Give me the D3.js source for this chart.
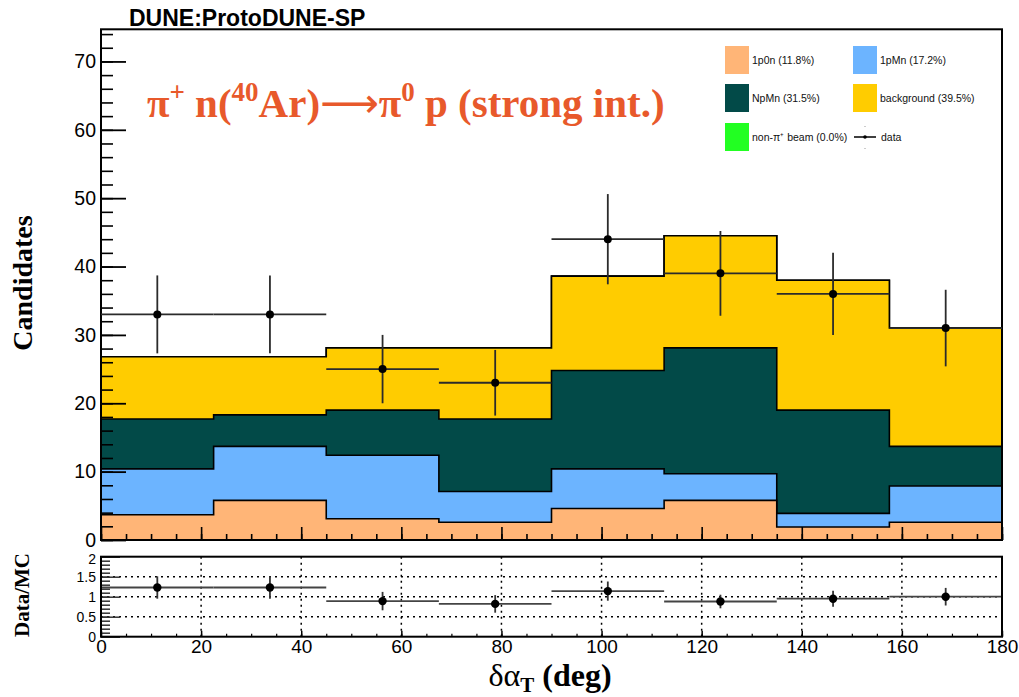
<!DOCTYPE html>
<html>
<head>
<meta charset="utf-8">
<script src="https://cdn.jsdelivr.net/npm/d3@7"></script>
<style>
	body { margin: 0; background: #fff; }
	svg { display: block; }
</style>
</head>
<body>
<script>
// bins in delta alpha_T (deg)
const binEdges = [0, 22.5, 45, 67.5, 90, 112.5, 135, 157.5, 180];
const binCenters = [11.25, 33.75, 56.25, 78.75, 101.25, 123.75, 146.25, 168.75];

// stacked MC components (bottom to top)
const comp1p0n = [3.7, 5.8, 3.1, 2.6, 4.6, 5.8, 1.9, 2.6];
const comp1pMn = [6.7, 7.9, 9.3, 4.5, 5.8, 3.9, 2.0, 5.3];
const compNpMn = [7.3, 4.6, 6.6, 10.6, 14.4, 18.4, 15.1, 5.8];
const compBackground = [9.1, 8.5, 9.1, 10.4, 13.8, 16.4, 19.0, 17.3];
const compNonPiBeam = [0, 0, 0, 0, 0, 0, 0, 0];

// data
const dataCounts = [33, 33, 25, 23, 44, 39, 36, 31];
const dataErrors = [5.7, 5.7, 5.0, 4.8, 6.6, 6.2, 6.0, 5.6];

// data / MC ratio
const ratioValues = [1.23, 1.23, 0.89, 0.82, 1.14, 0.88, 0.95, 1.0];
const ratioErrors = [0.28, 0.28, 0.23, 0.22, 0.24, 0.17, 0.2, 0.22];

const legendLabels = ["1p0n (11.8%)", "1pMn (17.2%)", "NpMn (31.5%)", "background (39.5%)", "non-\u03c0\u207a beam (0.0%)"];
const legendColors = ["#ffb577", "#6cb4ff", "#024a48", "#ffcc00", "#22ff22"];

const yMainTicks = [0, 10, 20, 30, 40, 50, 60, 70];
const yRatioTicks = [0, 0.5, 1, 1.5, 2];
const xTicks = [0, 20, 40, 60, 80, 100, 120, 140, 160, 180];

var width = 1019;
var height = 697;
var sans = "'Liberation Sans', Helvetica, Arial, sans-serif";
var serif = "'Liberation Serif', 'Times New Roman', serif";

const svg = d3
	.select("body")
	.append("svg")
	.attr("width", width)
	.attr("height", height);

const x = d3.scaleLinear().domain([0, 180]).range([101, 1002]);
const y = d3.scaleLinear().domain([0, 74.7]).range([540, 29.3]);
const yr = d3.scaleLinear().domain([0, 2]).range([636.7, 556.7]);

// cumulative stack
const components = [comp1p0n, comp1pMn, compNpMn, compBackground, compNonPiBeam];
var cumulative = [];
var running = binCenters.map(() => 0);
components.forEach((c) => {
	running = running.map((v, i) => v + c[i]);
	cumulative.push(running.slice());
});

function stepPath(vals) {
	var pts = [[x(0), y(0)]];
	vals.forEach((v, i) => {
		pts.push([x(binEdges[i]), y(v)]);
		pts.push([x(binEdges[i + 1]), y(v)]);
	});
	pts.push([x(180), y(0)]);
	return d3.line()(pts) + "Z";
}

// draw from top of stack down so lower ones cover
const stackOrder = d3.range(cumulative.length).reverse();
svg
	.append("g")
	.selectAll("path")
	.data(stackOrder)
	.join("path")
	.attr("d", (k) => stepPath(cumulative[k]))
	.style("fill", (k) => legendColors[k])
	.style("stroke", "#000")
	.style("stroke-width", 1.6)
	.style("stroke-linejoin", "miter");

// main frame
svg
	.append("rect")
	.attr("x", x(0))
	.attr("y", y(74.7))
	.attr("width", x(180) - x(0))
	.attr("height", y(0) - y(74.7))
	.style("fill", "none")
	.style("stroke", "#000")
	.style("stroke-width", 2);

// main y axis
const yAxisMinor = svg
	.append("g")
	.attr("transform", "translate(" + x(0) + ",0)")
	.call(
		d3.axisLeft(y)
			.tickValues(d3.range(0, 75, 2))
			.tickSize(-12)
			.tickFormat("")
	);
yAxisMinor.select(".domain").remove();
yAxisMinor.selectAll("line").style("stroke-width", 1.6);

const yAxis = svg
	.append("g")
	.attr("transform", "translate(" + x(0) + ",0)")
	.call(
		d3.axisLeft(y)
			.tickValues(yMainTicks)
			.tickSize(-25)
			.tickPadding(5)
	);
yAxis.select(".domain").remove();
yAxis.selectAll("line").style("stroke-width", 1.8);
yAxis.selectAll("text")
	.style("font-family", sans)
	.style("font-size", "19.5px")
	.style("fill", "#000");

// main x ticks (no labels)
const xMainMinor = svg
	.append("g")
	.attr("transform", "translate(0," + y(0) + ")")
	.call(d3.axisBottom(x).tickValues(d3.range(0, 181, 5)).tickSize(-6).tickFormat(""));
xMainMinor.select(".domain").remove();
xMainMinor.selectAll("line").style("stroke-width", 1.6);
const xMain = svg
	.append("g")
	.attr("transform", "translate(0," + y(0) + ")")
	.call(d3.axisBottom(x).tickValues(xTicks).tickSize(-13).tickFormat(""));
xMain.select(".domain").remove();
xMain.selectAll("line").style("stroke-width", 1.6);

// data points
const dataG = svg.append("g");
binCenters.forEach((c, i) => {
	dataG.append("line")
		.attr("x1", x(binEdges[i]))
		.attr("x2", x(binEdges[i + 1]))
		.attr("y1", y(dataCounts[i]))
		.attr("y2", y(dataCounts[i]))
		.style("stroke", "#2b2b2b")
		.style("stroke-width", 1.8);
	dataG.append("line")
		.attr("x1", x(c))
		.attr("x2", x(c))
		.attr("y1", y(dataCounts[i] - dataErrors[i]))
		.attr("y2", y(dataCounts[i] + dataErrors[i]))
		.style("stroke", "#2b2b2b")
		.style("stroke-width", 1.8);
	dataG.append("circle")
		.attr("cx", x(c))
		.attr("cy", y(dataCounts[i]))
		.attr("r", 4)
		.style("fill", "#000");
});

// legend
const legendX = [725, 853];
const legendY = [60, 98, 137];
const legend = svg.append("g");
legendLabels.forEach((lab, i) => {
	var lx = legendX[i % 2];
	var ly = legendY[Math.floor(i / 2)];
	legend.append("rect")
		.attr("x", lx)
		.attr("y", ly - 14)
		.attr("width", 24)
		.attr("height", 28)
		.style("fill", legendColors[i]);
	legend.append("text")
		.attr("x", lx + 27)
		.attr("y", ly + 3.5)
		.style("font-family", sans)
		.style("font-size", "10.5px")
		.style("fill", "#111")
		.text(lab);
});
// data entry
legend.append("line")
	.attr("x1", 854).attr("x2", 876)
	.attr("y1", 137).attr("y2", 137)
	.style("stroke", "#000")
	.style("stroke-width", 1.5);
legend.append("circle").attr("cx", 865).attr("cy", 137).attr("r", 1.8).style("fill", "#000");
legend.append("line")
	.attr("x1", 865).attr("x2", 865)
	.attr("y1", 126).attr("y2", 127)
	.style("stroke", "#999");
legend.append("line")
	.attr("x1", 865).attr("x2", 865)
	.attr("y1", 148).attr("y2", 149)
	.style("stroke", "#999");
legend.append("text")
	.attr("x", 881)
	.attr("y", 140.5)
	.style("font-family", sans)
	.style("font-size", "10.5px")
	.style("fill", "#111")
	.text("data");

// experiment label
svg.append("text")
	.attr("x", 129)
	.attr("y", 26)
	.style("font-family", sans)
	.style("font-weight", "bold")
	.style("font-size", "23px")
	.text("DUNE:ProtoDUNE-SP");

// process annotation
const ann = svg.append("text")
	.attr("x", 147)
	.attr("y", 117)
	.style("font-family", serif)
	.style("font-weight", "bold")
	.style("font-size", "41px")
	.style("fill", "#e8592b");
ann.append("tspan").text("\u03c0");
ann.append("tspan").attr("dy", -16).style("font-size", "27px").text("+");
ann.append("tspan").attr("dy", 16).text(" n(");
ann.append("tspan").attr("dy", -16).style("font-size", "27px").text("40");
ann.append("tspan").attr("dy", 16).text("Ar)");
ann.append("tspan").style("font-family", "'DejaVu Sans', sans-serif").style("font-weight", "normal").text("\u27f6");
ann.append("tspan").text("\u03c0");
ann.append("tspan").attr("dy", -16).style("font-size", "27px").text("0");
ann.append("tspan").attr("dy", 16).text(" p (strong int.)");

// y title
svg.append("text")
	.attr("transform", "translate(32,283) rotate(-90)")
	.attr("text-anchor", "middle")
	.style("font-family", serif)
	.style("font-weight", "bold")
	.style("font-size", "28px")
	.text("Candidates");

// ---------------- ratio panel ----------------
const ratioG = svg.append("g");

// dotted grid
ratioG.selectAll(".vgrid")
	.data(xTicks.slice(1, -1))
	.join("line")
	.attr("x1", (d) => x(d))
	.attr("x2", (d) => x(d))
	.attr("y1", yr(2))
	.attr("y2", yr(0))
	.style("stroke", "#000")
	.style("stroke-width", 1.5)
	.style("stroke-dasharray", "2,4");
ratioG.selectAll(".hgrid")
	.data([0.5, 1, 1.5])
	.join("line")
	.attr("x1", x(0))
	.attr("x2", x(180))
	.attr("y1", (d) => yr(d))
	.attr("y2", (d) => yr(d))
	.style("stroke", "#000")
	.style("stroke-width", 1.5)
	.style("stroke-dasharray", "2,4");

// ratio y ticks
const yrMinor = ratioG.append("g")
	.attr("transform", "translate(" + x(0) + ",0)")
	.call(d3.axisLeft(yr).tickValues(d3.range(0, 2.01, 0.1)).tickSize(-9).tickFormat(""));
yrMinor.select(".domain").remove();
yrMinor.selectAll("line").style("stroke-width", 1.5).style("stroke", "#333");
const yrAxis = ratioG.append("g")
	.attr("transform", "translate(" + x(0) + ",0)")
	.call(d3.axisLeft(yr).tickValues(yRatioTicks).tickSize(-19).tickPadding(5).tickFormat(d3.format("")));
yrAxis.select(".domain").remove();
yrAxis.selectAll("line").style("stroke-width", 1.5).style("stroke", "#333");
yrAxis.selectAll("text")
	.style("font-family", sans)
	.style("font-size", "14px")
	.style("fill", "#000");
yrAxis.selectAll("text").filter((d) => d === 2).attr("dy", "0.5em");

// ratio x axis
const xrMinor = ratioG.append("g")
	.attr("transform", "translate(0," + yr(0) + ")")
	.call(d3.axisBottom(x).tickValues(d3.range(0, 181, 5)).tickSize(-3).tickFormat(""));
xrMinor.select(".domain").remove();
xrMinor.selectAll("line").style("stroke-width", 1.2);
const xrAxis = ratioG.append("g")
	.attr("transform", "translate(0," + yr(0) + ")")
	.call(d3.axisBottom(x).tickValues(xTicks).tickSize(-6).tickPadding(3));
xrAxis.select(".domain").remove();
xrAxis.selectAll("line").style("stroke-width", 1.5);
xrAxis.selectAll("text")
	.style("font-family", sans)
	.style("font-size", "19px")
	.style("fill", "#000");

// ratio points
binCenters.forEach((c, i) => {
	ratioG.append("line")
		.attr("x1", x(binEdges[i]))
		.attr("x2", x(binEdges[i + 1]))
		.attr("y1", yr(ratioValues[i]))
		.attr("y2", yr(ratioValues[i]))
		.style("stroke", "#444")
		.style("stroke-width", 1.8);
	ratioG.append("line")
		.attr("x1", x(c))
		.attr("x2", x(c))
		.attr("y1", yr(ratioValues[i] - ratioErrors[i]))
		.attr("y2", yr(ratioValues[i] + ratioErrors[i]))
		.style("stroke", "#333")
		.style("stroke-width", 1.8);
	ratioG.append("circle")
		.attr("cx", x(c))
		.attr("cy", yr(ratioValues[i]))
		.attr("r", 4.2)
		.style("fill", "#000");
});

// ratio frame
ratioG.append("rect")
	.attr("x", x(0))
	.attr("y", yr(2))
	.attr("width", x(180) - x(0))
	.attr("height", yr(0) - yr(2))
	.style("fill", "none")
	.style("stroke", "#000")
	.style("stroke-width", 2);

// ratio y title
svg.append("text")
	.attr("transform", "translate(29,595) rotate(-90)")
	.attr("text-anchor", "middle")
	.style("font-family", serif)
	.style("font-weight", "bold")
	.style("font-size", "21px")
	.text("Data/MC");

// x title
const xt = svg.append("text")
	.attr("x", 550)
	.attr("y", 686)
	.attr("text-anchor", "middle")
	.style("font-family", serif)
	.style("font-size", "32px");
xt.append("tspan").text("\u03b4\u03b1");
xt.append("tspan").attr("dy", 6).style("font-size", "21px").style("font-weight", "bold").text("T");
xt.append("tspan").attr("dy", -6).style("font-weight", "bold").text(" (deg)");
</script>
</body>
</html>
